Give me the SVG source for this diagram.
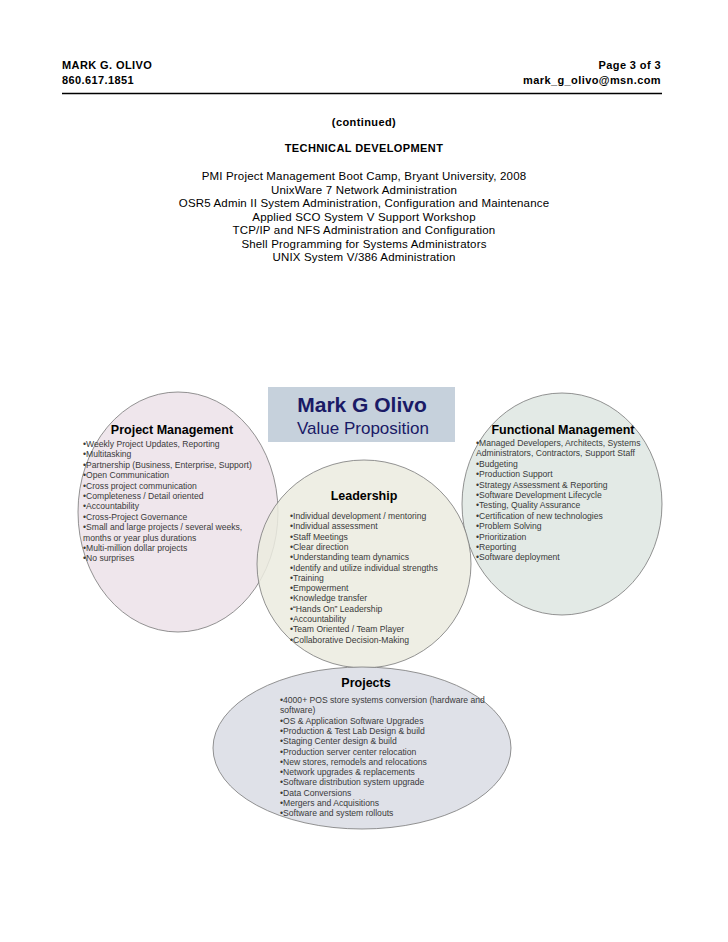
<svg xmlns="http://www.w3.org/2000/svg" width="728" height="942" viewBox="0 0 728 942">
<style>
.hd{font-family:"Liberation Sans",Arial,sans-serif;font-size:11px;font-weight:bold;fill:#000;letter-spacing:0.4px}
.td{font-family:"Liberation Sans",Arial,sans-serif;font-size:11.5px;fill:#000;text-anchor:middle;letter-spacing:0.17px}
.tdb{font-family:"Liberation Sans",Arial,sans-serif;font-size:11px;font-weight:bold;fill:#000;text-anchor:middle;letter-spacing:0.4px}
.ell{stroke:#777;stroke-width:0.8}
.ttl{font-family:"Liberation Sans",Arial,sans-serif;font-size:12.5px;font-weight:bold;fill:#000;text-anchor:middle}
.it{font-family:"Liberation Sans",Arial,sans-serif;font-size:8.6px;fill:#3a3a3a}
</style>
<g id="header">
<text class="hd" x="62" y="69">MARK G. OLIVO</text>
<text class="hd" x="62" y="84">860.617.1851</text>
<text class="hd" x="661" y="69" text-anchor="end">Page 3 of 3</text>
<text class="hd" x="661" y="84" text-anchor="end">mark_g_olivo@msn.com</text>
<line x1="62" y1="93.5" x2="662" y2="93.5" stroke="#000" stroke-width="1.3"/>
</g>
<g id="tech-dev">
<text class="tdb" x="364" y="126">(continued)</text>
<text class="tdb" x="364" y="152">TECHNICAL DEVELOPMENT</text>
<text class="td" x="364" y="180">PMI Project Management Boot Camp, Bryant University, 2008</text>
<text class="td" x="364" y="193.5">UnixWare 7 Network Administration</text>
<text class="td" x="364" y="207">OSR5 Admin II System Administration, Configuration and Maintenance</text>
<text class="td" x="364" y="220.5">Applied SCO System V Support Workshop</text>
<text class="td" x="364" y="234">TCP/IP and NFS Administration and Configuration</text>
<text class="td" x="364" y="247.5">Shell Programming for Systems Administrators</text>
<text class="td" x="364" y="261">UNIX System V/386 Administration</text>
</g>
<g id="project-management">
<ellipse class="ell" cx="178" cy="512" rx="100" ry="120" fill="#efe6ec"/>
<text class="ttl" x="172" y="434">Project Management</text>
<text class="it">
<tspan x="83" y="447">•Weekly Project Updates, Reporting</tspan>
<tspan x="83" y="457.4">•Multitasking</tspan>
<tspan x="83" y="467.8">•Partnership (Business, Enterprise, Support)</tspan>
<tspan x="83" y="478.2">•Open Communication</tspan>
<tspan x="83" y="488.6">•Cross project communication</tspan>
<tspan x="83" y="499">•Completeness / Detail oriented</tspan>
<tspan x="83" y="509.4">•Accountability</tspan>
<tspan x="83" y="519.8">•Cross-Project Governance</tspan>
<tspan x="83" y="530.2">•Small and large projects / several weeks,</tspan>
<tspan x="83" y="540.6">months or year plus durations</tspan>
<tspan x="83" y="551">•Multi-million dollar projects</tspan>
<tspan x="83" y="561.4">•No surprises</tspan>
</text>
</g>
<g id="functional-management">
<ellipse class="ell" cx="562" cy="504" rx="100" ry="111" fill="#e3eae6"/>
<text class="ttl" x="563" y="434">Functional Management</text>
<text class="it">
<tspan x="476" y="446">•Managed Developers, Architects, Systems</tspan>
<tspan x="476" y="456.4">Administrators, Contractors, Support Staff</tspan>
<tspan x="476" y="466.8">•Budgeting</tspan>
<tspan x="476" y="477.2">•Production Support</tspan>
<tspan x="476" y="487.6">•Strategy Assessment &amp; Reporting</tspan>
<tspan x="476" y="498">•Software Development Lifecycle</tspan>
<tspan x="476" y="508.4">•Testing, Quality Assurance</tspan>
<tspan x="476" y="518.8">•Certification of new technologies</tspan>
<tspan x="476" y="529.2">•Problem Solving</tspan>
<tspan x="476" y="539.6">•Prioritization</tspan>
<tspan x="476" y="550">•Reporting</tspan>
<tspan x="476" y="560.4">•Software deployment</tspan>
</text>
</g>
<g id="leadership">
<ellipse class="ell" cx="364" cy="564" rx="107" ry="104" fill="#ebebdf" fill-opacity="0.85"/>
<text class="ttl" x="364" y="500">Leadership</text>
<text class="it">
<tspan x="290" y="519">•Individual development / mentoring</tspan>
<tspan x="290" y="529.3">•Individual assessment</tspan>
<tspan x="290" y="539.6">•Staff Meetings</tspan>
<tspan x="290" y="549.9">•Clear direction</tspan>
<tspan x="290" y="560.2">•Understanding team dynamics</tspan>
<tspan x="290" y="570.5">•Identify and utilize individual strengths</tspan>
<tspan x="290" y="580.8">•Training</tspan>
<tspan x="290" y="591.1">•Empowerment</tspan>
<tspan x="290" y="601.4">•Knowledge transfer</tspan>
<tspan x="290" y="611.7">•“Hands On” Leadership</tspan>
<tspan x="290" y="622">•Accountability</tspan>
<tspan x="290" y="632.3">•Team Oriented / Team Player</tspan>
<tspan x="290" y="642.6">•Collaborative Decision-Making</tspan>
</text>
</g>
<g id="projects">
<ellipse class="ell" cx="362" cy="748" rx="149" ry="81" fill="#dfe1e8"/>
<text class="ttl" x="366" y="687">Projects</text>
<text class="it">
<tspan x="280" y="703">•4000+ POS store systems conversion (hardware and</tspan>
<tspan x="280" y="713.3">software)</tspan>
<tspan x="280" y="723.6">•OS &amp; Application Software Upgrades</tspan>
<tspan x="280" y="733.9">•Production &amp; Test Lab Design &amp; build</tspan>
<tspan x="280" y="744.2">•Staging Center design &amp; build</tspan>
<tspan x="280" y="754.5">•Production server center relocation</tspan>
<tspan x="280" y="764.8">•New stores, remodels and relocations</tspan>
<tspan x="280" y="775.1">•Network upgrades &amp; replacements</tspan>
<tspan x="280" y="785.4">•Software distribution system upgrade</tspan>
<tspan x="280" y="795.7">•Data Conversions</tspan>
<tspan x="280" y="806">•Mergers and Acquisitions</tspan>
<tspan x="280" y="816.3">•Software and system rollouts</tspan>
</text>
</g>
<g id="value-proposition">
<rect x="268" y="387" width="187" height="55" fill="#c6d1dc"/>
<text x="362" y="412" text-anchor="middle" font-family="Liberation Sans, Arial, sans-serif" font-size="21" font-weight="bold" fill="#1a1a66">Mark G Olivo</text>
<text x="363" y="434" text-anchor="middle" font-family="Liberation Sans, Arial, sans-serif" font-size="17" fill="#1a1a66">Value Proposition</text>
</g>
<g id="connectors"></g>
</svg>
